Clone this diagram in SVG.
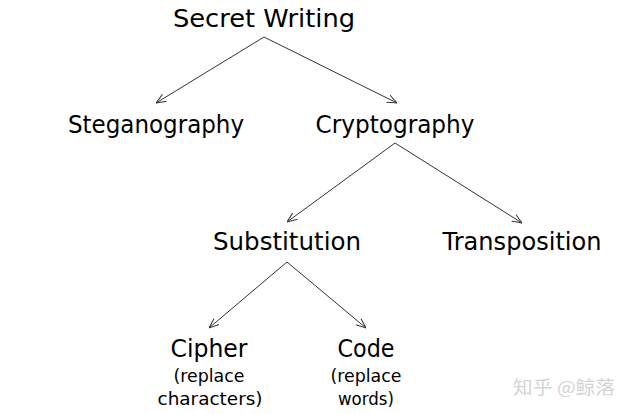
<svg xmlns="http://www.w3.org/2000/svg" width="630" height="414" viewBox="0 0 630 414">
<style>
.t{font-family:"DejaVu Sans","Liberation Sans",sans-serif;font-size:24px;fill:#000;text-anchor:middle}
.s{font-family:"DejaVu Sans","Liberation Sans",sans-serif;font-size:18px;fill:#000;text-anchor:middle}
.e{fill:none;stroke:#333;stroke-width:1}
.w{font-family:"Noto Sans CJK SC",sans-serif;font-size:18px;fill:#d4d4d4}
</style>
<defs>
<marker id="a" viewBox="0 0 10 10" refX="10" refY="5" markerWidth="10" markerHeight="10" markerUnits="userSpaceOnUse" orient="auto">
<path d="M0,1 L10,5 L0,9" fill="none" stroke="#333" stroke-width="1"/>
</marker>
</defs>
<rect width="630" height="414" fill="#fff"/>
<g id="connectors">
<line class="e" x1="264" y1="37" x2="156" y2="103" marker-end="url(#a)"/>
<line class="e" x1="264" y1="37" x2="397" y2="103" marker-end="url(#a)"/>
<line class="e" x1="395" y1="143" x2="287" y2="222" marker-end="url(#a)"/>
<line class="e" x1="395" y1="143" x2="522" y2="223" marker-end="url(#a)"/>
<line class="e" x1="287" y1="262" x2="209" y2="328" marker-end="url(#a)"/>
<line class="e" x1="287" y1="262" x2="366" y2="328" marker-end="url(#a)"/>
</g>
<g id="secret-writing"><text class="t" x="264" y="27" textLength="182" lengthAdjust="spacingAndGlyphs">Secret Writing</text></g>
<g id="steganography"><text class="t" x="156" y="133" textLength="176" lengthAdjust="spacingAndGlyphs">Steganography</text></g>
<g id="cryptography"><text class="t" x="395" y="133" textLength="159" lengthAdjust="spacingAndGlyphs">Cryptography</text></g>
<g id="substitution"><text class="t" x="287" y="250" textLength="148" lengthAdjust="spacingAndGlyphs">Substitution</text></g>
<g id="transposition"><text class="t" x="522" y="250" textLength="159" lengthAdjust="spacingAndGlyphs">Transposition</text></g>
<g id="cipher"><text class="t" x="209" y="357" textLength="77" lengthAdjust="spacingAndGlyphs">Cipher</text>
<text class="s" x="209" y="382" textLength="71" lengthAdjust="spacingAndGlyphs">(replace</text>
<text class="s" x="210" y="405" textLength="105" lengthAdjust="spacingAndGlyphs">characters)</text></g>
<g id="code"><text class="t" x="366" y="357" textLength="57" lengthAdjust="spacingAndGlyphs">Code</text>
<text class="s" x="366" y="382" textLength="71" lengthAdjust="spacingAndGlyphs">(replace</text>
<text class="s" x="366" y="405" textLength="56" lengthAdjust="spacingAndGlyphs">words)</text></g>
<text class="w" x="513" y="394" textLength="102" lengthAdjust="spacingAndGlyphs">知乎 @鲸落</text>
</svg>
